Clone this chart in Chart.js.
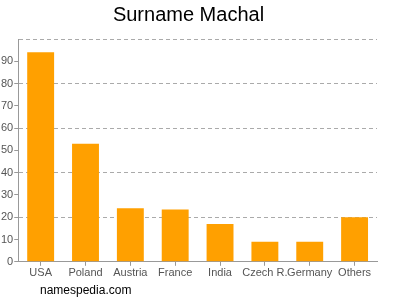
<!DOCTYPE html>
<html>
<head>
<meta charset="utf-8">
<script src="https://cdn.jsdelivr.net/npm/chart.js@4/dist/chart.umd.min.js"></script>
<style>
  body { margin: 0; background: #fff; }
  #wrap { position: relative; width: 400px; height: 300px; }
  #footer { position: absolute; left: 40px; top: 283px; font: 12px "Liberation Sans", Arial, sans-serif; color: #000; }
</style>
</head>
<body>
<div id="wrap">
  <canvas id="canvas" width="400" height="300"></canvas>
  <div id="footer">namespedia.com</div>
</div>
<script>
var countries = ['USA', 'Poland', 'Austria', 'France', 'India', 'Czech R.', 'Germany', 'Others']
var values = [94, 53, 24, 23.5, 17, 9, 9, 20]
var yTicks = [0, 10, 20, 30, 40, 50, 60, 70, 80, 90]

var chart = new Chart(canvas, {
    type: 'bar',
    data: {
        labels: countries,
        datasets: [{
            data: values,
            backgroundColor: '#ffa000',
            categoryPercentage: 0.8,
            barPercentage: 0.75
        }]
    },
    options: {
        responsive: false,
        animation: false,
        layout: {
            padding: { left: 0, right: 23, top: 0, bottom: 19 }
        },
        plugins: {
            legend: { display: false },
            tooltip: { enabled: false },
            title: {
                display: true,
                text: 'Surname Machal',
                color: '#000',
                font: { family: '"Liberation Sans", Arial, sans-serif', size: 20, weight: 'normal' },
                padding: { top: 3, bottom: 12 }
            }
        },
        scales: {
            x: {
                grid: {
                    offset: false,
                    drawOnChartArea: false,
                    tickLength: 4,
                    tickColor: '#999'
                },
                border: { color: '#999' },
                ticks: {
                    color: '#555',
                    padding: 1,
                    maxRotation: 0,
                    autoSkip: false,
                    font: { family: '"Liberation Sans", Arial, sans-serif', size: 11 }
                }
            },
            y: {
                min: 0,
                max: 100,
                grid: {
                    color: function(ctx) {
                        var v = ctx.tick ? ctx.tick.value : 0
                        return (v > 0 && v % 20 == 0) ? '#aaa' : 'rgba(0,0,0,0)'
                    },
                    tickColor: function(ctx) {
                        var v = ctx.tick ? ctx.tick.value : 0
                        return yTicks.indexOf(v) >= 0 ? '#999' : 'rgba(0,0,0,0)'
                    },
                    tickLength: 4,
                    drawTicks: true
                },
                border: { color: '#999', dash: [4, 3] },
                ticks: {
                    stepSize: 10,
                    color: '#555',
                    padding: 1,
                    font: { family: '"Liberation Sans", Arial, sans-serif', size: 11 },
                    callback: function(v) { return yTicks.indexOf(v) >= 0 ? v : '' }
                }
            }
        }
    }
})
</script>
</body>
</html>
